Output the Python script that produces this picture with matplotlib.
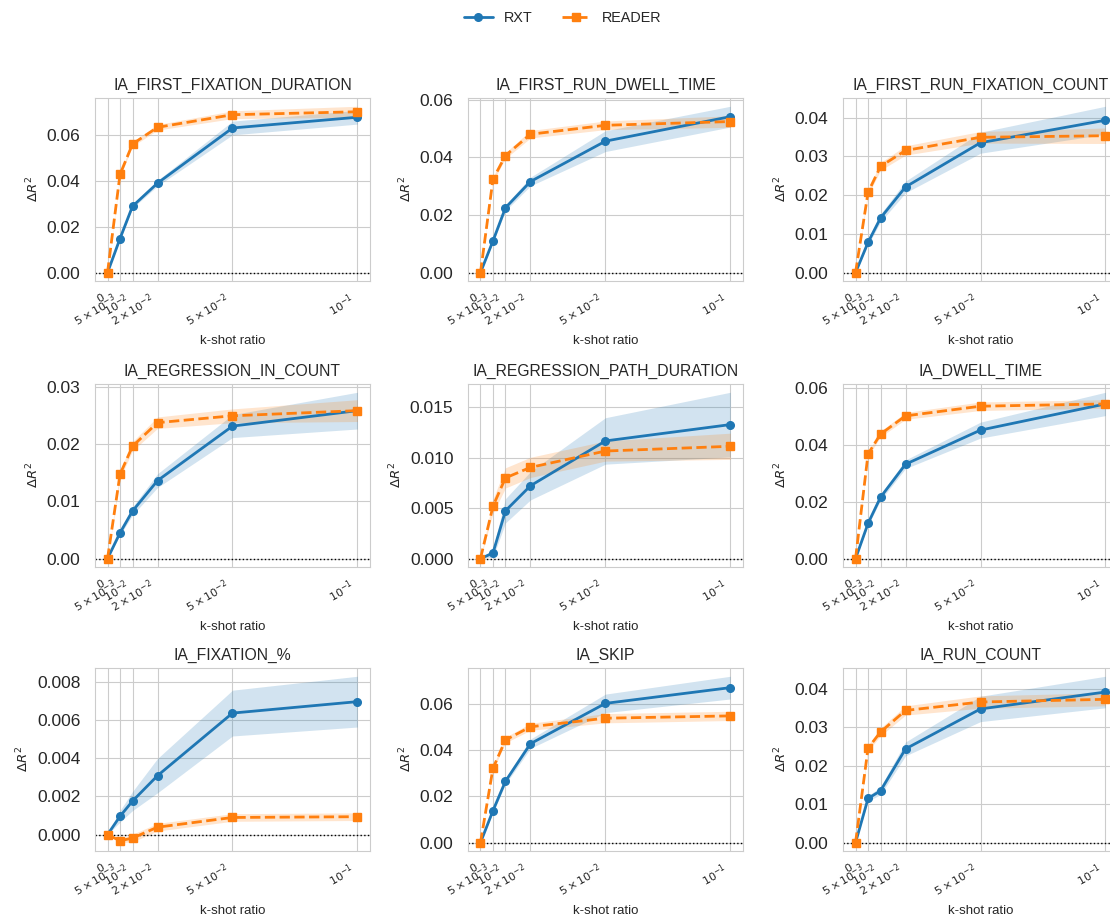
import numpy as np
import matplotlib
matplotlib.use("Agg")
import matplotlib.pyplot as plt
import seaborn as sns

sns.set_style("whitegrid")
plt.rcParams['font.family'] = ['Liberation Sans', 'DejaVu Sans']

# k-shot ratios
kshot = [0, 0.005, 0.01, 0.02, 0.05, 0.1]
xtick_labels = [r'$0$', r'$5\times10^{-3}$', r'$10^{-2}$', r'$2\times10^{-2}$',
                r'$5\times10^{-2}$', r'$10^{-1}$']

titles = ['IA_FIRST_FIXATION_DURATION', 'IA_FIRST_RUN_DWELL_TIME', 'IA_FIRST_RUN_FIXATION_COUNT',
          'IA_REGRESSION_IN_COUNT', 'IA_REGRESSION_PATH_DURATION', 'IA_DWELL_TIME',
          'IA_FIXATION_%', 'IA_SKIP', 'IA_RUN_COUNT']

# mean delta R^2, one row per measure
rxt_mean = [
    [0, 0.0149, 0.0290, 0.0391, 0.0632, 0.0679],
    [0, 0.0110, 0.0225, 0.0316, 0.0456, 0.0541],
    [0, 0.0078, 0.0141, 0.0221, 0.0335, 0.0393],
    [0, 0.0045, 0.0083, 0.0136, 0.0231, 0.0258],
    [0, 0.00056, 0.00474, 0.00722, 0.01166, 0.01328],
    [0, 0.0124, 0.0216, 0.0332, 0.0452, 0.0544],
    [0, 0.00096, 0.00176, 0.00309, 0.00637, 0.00697],
    [0, 0.0138, 0.0265, 0.0427, 0.0601, 0.0669],
    [0, 0.0115, 0.0135, 0.0244, 0.0348, 0.0392],
]
reader_mean = [
    [0, 0.0429, 0.0562, 0.0635, 0.0690, 0.0703],
    [0, 0.0324, 0.0406, 0.0480, 0.0511, 0.0524],
    [0, 0.0207, 0.0274, 0.0315, 0.0349, 0.0353],
    [0, 0.0147, 0.0196, 0.0237, 0.0249, 0.0258],
    [0, 0.0052, 0.0080, 0.00904, 0.01066, 0.01113],
    [0, 0.0368, 0.0438, 0.0502, 0.0536, 0.0544],
    [0, -0.00032, -0.00018, 0.00039, 0.00090, 0.00094],
    [0, 0.0321, 0.0443, 0.0500, 0.0537, 0.0547],
    [0, 0.0246, 0.0288, 0.0344, 0.0366, 0.0373],
]
# half-width of the shaded band
rxt_err = [
    [0, 0.0005, 0.0008, 0.0012, 0.0030, 0.0030],
    [0, 0.0006, 0.0010, 0.0015, 0.0036, 0.0036],
    [0, 0.0006, 0.0010, 0.0015, 0.0027, 0.0036],
    [0, 0.0004, 0.0007, 0.0012, 0.0020, 0.0032],
    [0, 0.0004, 0.0012, 0.0014, 0.0023, 0.0032],
    [0, 0.0007, 0.0010, 0.0015, 0.0028, 0.0041],
    [0, 0.0003, 0.0005, 0.0009, 0.0012, 0.00133],
    [0, 0.0008, 0.0012, 0.0020, 0.0040, 0.0049],
    [0, 0.0007, 0.0010, 0.0018, 0.0033, 0.0041],
]
reader_err = [
    [0, 0.0008, 0.0010, 0.0012, 0.0017, 0.0024],
    [0, 0.0008, 0.0010, 0.0013, 0.0015, 0.0020],
    [0, 0.0007, 0.0010, 0.0012, 0.0015, 0.0020],
    [0, 0.0007, 0.0008, 0.0010, 0.0012, 0.0019],
    [0, 0.0007, 0.0010, 0.0010, 0.0010, 0.0013],
    [0, 0.0008, 0.0010, 0.0012, 0.0015, 0.0015],
    [0, 0.0001, 0.0002, 0.0002, 0.0002, 0.0002],
    [0, 0.0010, 0.0012, 0.0015, 0.0020, 0.0020],
    [0, 0.0007, 0.0010, 0.0012, 0.0016, 0.0017],
]

blue = '#1f77b4'
orange = '#ff7f0e'

fig = plt.figure(figsize=(11.1, 9.17), dpi=100)
lefts = [0.0856, 0.4216, 0.7595]
bottoms = [0.6936, 0.3817, 0.072]
w, h = 0.2477, 0.1996

for i in range(9):
    r, c = divmod(i, 3)
    ax = fig.add_axes([lefts[c], bottoms[r], w, h])
    x = np.array(kshot)
    m1, e1 = np.array(rxt_mean[i]), np.array(rxt_err[i])
    m2, e2 = np.array(reader_mean[i]), np.array(reader_err[i])
    ax.plot(x, m1, '-o', color=blue, lw=2, ms=5.5, label='RXT', zorder=3)
    ax.fill_between(x, m1 - e1, m1 + e1, color=blue, alpha=0.2, lw=0)
    ax.plot(x, m2, '--s', color=orange, lw=2, ms=5.5, label='READER', zorder=3)
    ax.fill_between(x, m2 - e2, m2 + e2, color=orange, alpha=0.2, lw=0)
    ax.axhline(0, color='black', ls=':', lw=1, zorder=2)
    ax.set_xticks(kshot)
    ax.set_xticklabels(xtick_labels, rotation=30, ha='right', fontsize=8)
    ax.tick_params(axis='y', labelsize=12.5, pad=7)
    ax.set_title(titles[i], fontsize=11.3)
    ax.set_xlabel('k-shot ratio', fontsize=9.5)
    ax.set_ylabel(r'$\Delta R^2$', fontsize=9.5)
    if i == 0:
        handles, labels = ax.get_legend_handles_labels()

fig.legend(handles, labels, loc='upper center', ncol=2, frameon=False,
           bbox_to_anchor=(0.507, 1.002), fontsize=10.4, columnspacing=2.0)

plt.savefig('out.png', dpi=100)
